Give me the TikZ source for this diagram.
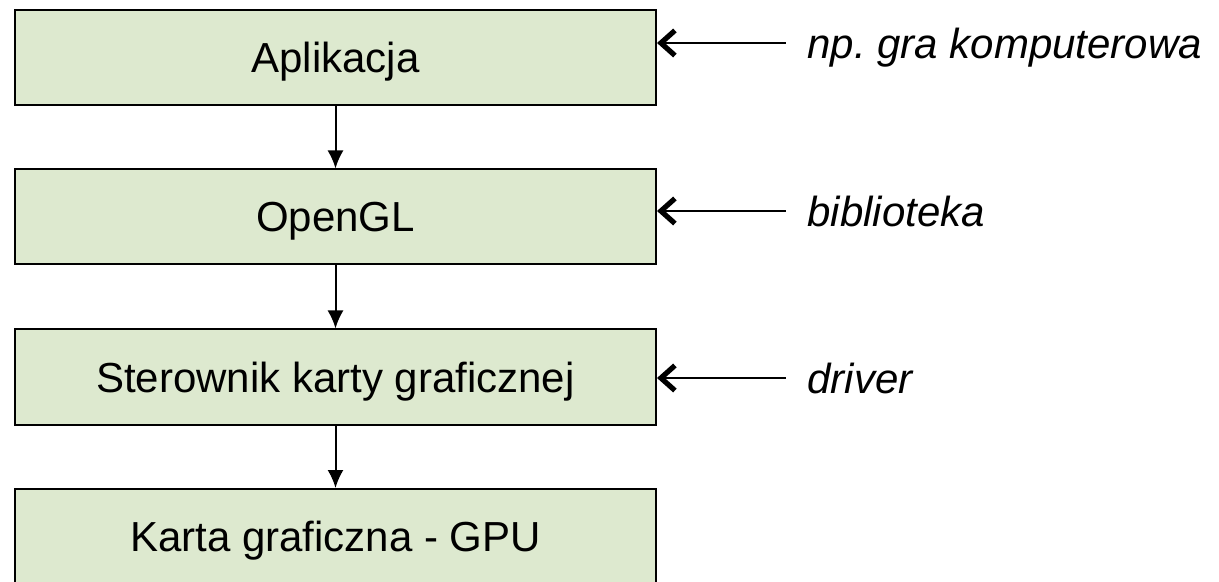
\documentclass[tikz,border=0pt]{standalone}
\usepackage{fontspec}
\setmainfont{Liberation Sans}
\usetikzlibrary{arrows.meta}
\definecolor{layergreen}{RGB}{221,233,207}
\begin{document}
\begin{tikzpicture}[x=0.5pt,y=-0.5pt,>={Latex[length=9pt,width=8pt]}]
\tikzset{
  layer/.style={draw,line width=1pt,fill=layergreen,shape=rectangle,minimum width=320.5pt,minimum height=47.5pt,inner sep=0pt,text depth=0pt,font=\fontsize{21}{25}\selectfont},
  note/.style={anchor=west,inner xsep=10.5pt,inner ysep=0pt,text depth=0pt,font=\fontsize{21}{25}\selectfont\itshape},
  barb/.style={{Straight Barb[length=7pt,width=12.5pt,line width=2.6pt]}-,line width=0.7pt}
}
\useasboundingbox (0,0) rectangle (1219,582);
\node[layer] (app) at (335.5,57.5) {Aplikacja};
\node[layer] (gl) at (335.5,217) {OpenGL};
\node[layer] (drv) at (335.5,377) {Sterownik karty graficznej};
\node[layer] (gpu) at (335.5,536.5) {Karta graficzna - GPU};
\node[note] (appnote) at (786,43) {np.\ gra komputerowa};
\node[note] (glnote) at (786,211) {biblioteka};
\node[note] (drvnote) at (786,378) {driver};
\draw[->,line width=1pt] (app) -- (gl);
\draw[->,line width=1pt] (gl) -- (drv);
\draw[->,line width=1pt] (drv) -- (gpu);
\draw[barb] (app.east |- appnote.west) -- (appnote.west);
\draw[barb] (gl.east |- glnote.west) -- (glnote.west);
\draw[barb] (drv.east |- drvnote.west) -- (drvnote.west);
\end{tikzpicture}
\end{document}
